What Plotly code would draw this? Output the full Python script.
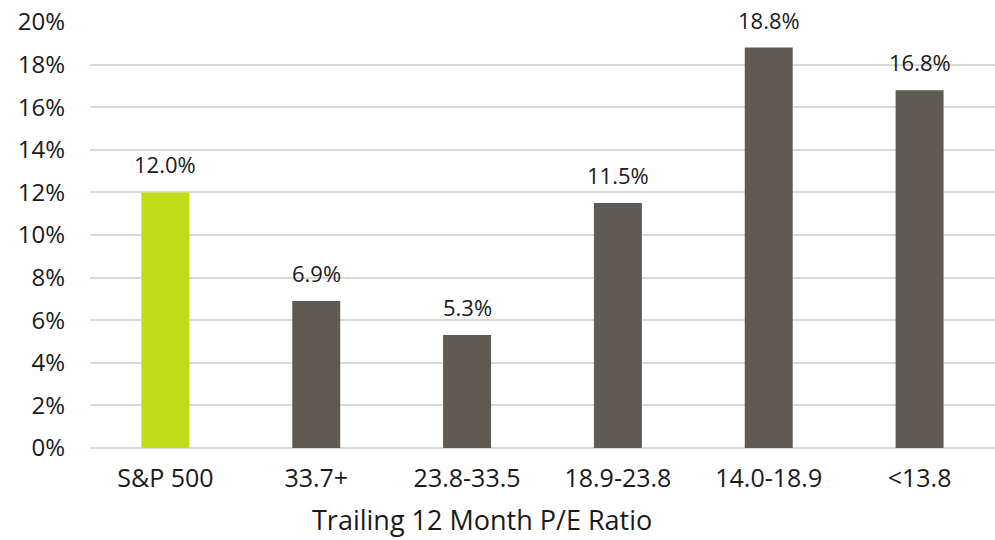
import plotly.graph_objects as go

# Average annual return by trailing P/E bucket
categories = ["S&P 500", "33.7+", "23.8-33.5", "18.9-23.8", "14.0-18.9", "<13.8"]
returns_pct = [12.0, 6.9, 5.3, 11.5, 18.8, 16.8]
bar_colors = ["#c0dc18", "#5f5a53", "#5f5a53", "#5f5a53", "#5f5a53", "#5f5a53"]
y_ticks = [0, 2, 4, 6, 8, 10, 12, 14, 16, 18, 20]
x_title = "Trailing 12 Month P/E Ratio"

FONT = "Open Sans"
TEXT = "#1a1a1a"

fig = go.Figure(
    go.Bar(
        x=categories,
        y=returns_pct,
        marker=dict(color=bar_colors, line=dict(width=0)),
        width=0.318,
        hoverinfo="skip",
    )
)

# value labels above each bar
for cat, val in zip(categories, returns_pct):
    fig.add_annotation(
        x=cat, y=val, text=f"{val:.1f}%", showarrow=False,
        yanchor="bottom", yshift=11,
        font=dict(family=FONT, size=22, color=TEXT),
    )

# category-axis title, sitting slightly left of the plot centre
fig.add_annotation(
    xref="paper", yref="paper", x=0.433, y=-0.168,
    xanchor="center", yanchor="middle", showarrow=False,
    text=x_title, font=dict(family=FONT, size=27, color=TEXT),
    borderpad=0,
)

fig.update_layout(
    width=995, height=540,
    margin=dict(l=90, r=0, t=22, b=92),
    paper_bgcolor="white", plot_bgcolor="white",
    showlegend=False,
    font=dict(family=FONT, size=24, color=TEXT),
    xaxis=dict(
        showgrid=False, showline=False, zeroline=False,
        tickfont=dict(family=FONT, size=25, color=TEXT),
        ticks="", ticklabelstandoff=13,
    ),
    yaxis=dict(
        range=[0, 20], tickvals=y_ticks,
        ticktext=[f"{v}%" for v in y_ticks],
        showgrid=True, gridcolor="#d9d9d9", gridwidth=1.5,
        zeroline=True, zerolinecolor="#d9d9d9", zerolinewidth=1.5,
        showline=False, ticks="", ticklabelstandoff=24,
        tickfont=dict(family=FONT, size=24, color=TEXT),
    ),
)

fig.write_html("out.html")
